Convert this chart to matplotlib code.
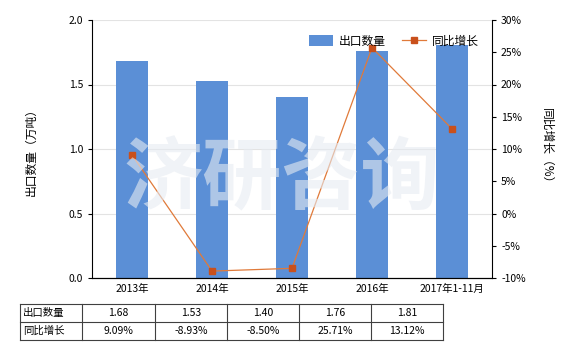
import numpy as np
import matplotlib.pyplot as plt

plt.rcParams['font.family'] = ['Noto Sans CJK SC', 'DejaVu Sans']

# data
years = ["2013年", "2014年", "2015年", "2016年", "2017年1-11月"]
qty = [1.68, 1.53, 1.40, 1.76, 1.81]
growth = [9.09, -8.93, -8.50, 25.71, 13.12]
qty_labels = ["1.68", "1.53", "1.40", "1.76", "1.81"]
growth_labels = ["9.09%", "-8.93%", "-8.50%", "25.71%", "13.12%"]

bar_color = "#5B8FD6"
line_color = "#E07A3A"
marker_color = "#C9501C"

fig = plt.figure(figsize=(5.8, 3.5), dpi=100)
W, H = 580, 350
ax = fig.add_axes([92 / W, 1 - 278 / H, 400 / W, 258 / H])
ax2 = ax.twinx()

x = np.arange(len(years))
ax.bar(x, qty, width=0.4, color=bar_color, zorder=2, label="出口数量")
ax2.plot(x, growth, color=line_color, lw=0.9, marker="s", ms=5,
         mfc=marker_color, mec=marker_color, zorder=3, label="同比增长")

ax.set_xlim(-0.5, 4.5)
ax.set_ylim(0, 2.0)
ax.set_yticks([0, 0.5, 1.0, 1.5, 2.0])
ax.set_yticklabels(["0.0", "0.5", "1.0", "1.5", "2.0"])
ax2.set_ylim(-10, 30)
ax2.set_yticks(range(-10, 31, 5))
ax2.set_yticklabels([f"{v}%" for v in range(-10, 31, 5)])

ax.grid(axis="y", color="#E3E3E3", lw=0.8, zorder=0)
ax.set_axisbelow(True)
ax.set_xticks(x)
ax.set_xticklabels(years, fontsize=7.5)
ax.tick_params(axis="x", length=0, pad=4)
ax.tick_params(axis="y", labelsize=7.5, length=3)
ax2.tick_params(axis="y", labelsize=7.5, length=3)

for a in (ax, ax2):
    a.spines["top"].set_visible(False)
ax.spines["right"].set_visible(False)
ax2.spines["left"].set_visible(False)

ax.set_ylabel("出口数量（万吨）", fontsize=8.5, labelpad=22)
ax2.set_ylabel("同比增长（%）", fontsize=8.5, rotation=270, labelpad=20)

# watermark
fig.text(0.485, 0.485, "济研咨询", fontsize=57, color="#E6EBF2", alpha=0.6,
         ha="center", va="center", fontweight="bold", zorder=5)

h1, l1 = ax.get_legend_handles_labels()
h2, l2 = ax2.get_legend_handles_labels()
ax2.legend(h1 + h2, l1 + l2, loc="upper right", bbox_to_anchor=(0.985, 0.97),
           ncol=2, frameon=False, fontsize=8.5, handlelength=2.0, handleheight=1.0,
           columnspacing=1.4, handletextpad=0.5, borderaxespad=0.2)

# table below
col_edges = [20, 82, 155, 227, 299, 371, 443]
row_edges = [304, 322, 340]
for y in row_edges:
    fig.add_artist(plt.Line2D([col_edges[0] / W, col_edges[-1] / W],
                              [1 - y / H, 1 - y / H], color="#404040", lw=0.8))
for xe in col_edges:
    fig.add_artist(plt.Line2D([xe / W, xe / W], [1 - row_edges[0] / H, 1 - row_edges[-1] / H],
                              color="#404040", lw=0.8))

rows = [("出口数量", qty_labels), ("同比增长", growth_labels)]
for r, (name, vals) in enumerate(rows):
    yc = 1 - (row_edges[r] + row_edges[r + 1]) / 2 / H
    fig.text((col_edges[0] + 3) / W, yc, name, fontsize=7.5, ha="left", va="center")
    for i, v in enumerate(vals):
        xc = (col_edges[i + 1] + col_edges[i + 2]) / 2 / W
        fig.text(xc, yc, v, fontsize=7.5, ha="center", va="center")

fig.savefig("out.png", dpi=100)
